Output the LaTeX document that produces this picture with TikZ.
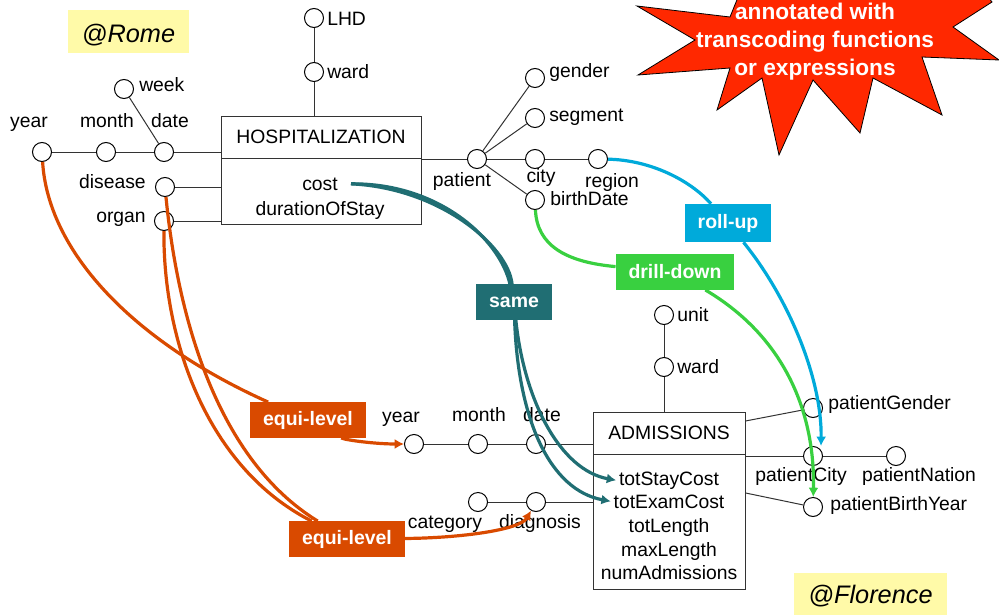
\documentclass[tikz,border=0pt]{standalone}
\usepackage{fontspec}
\setmainfont{Liberation Sans}
\usetikzlibrary{arrows.meta}

\definecolor{eqorange}{RGB}{217,74,0}
\definecolor{sameteal}{RGB}{32,110,115}
\definecolor{drillgreen}{RGB}{57,208,64}
\definecolor{rollblue}{RGB}{0,170,218}
\definecolor{starred}{RGB}{255,40,0}
\definecolor{noteyellow}{RGB}{255,250,168}

\pgfdeclarelayer{lines}
\pgfdeclarelayer{curves}
\pgfdeclarelayer{tags}
\pgfsetlayers{lines,main,curves,tags}

\tikzset{
  attr/.style={circle,draw=black,fill=white,line width=0.75pt,minimum size=14.25pt,inner sep=0pt},
  txt/.style={inner sep=0pt,font=\fontsize{14.5}{17}\selectfont,anchor=base},
  fact/.style={draw=black!80,line width=0.75pt,fill=white,inner sep=0pt,font=\fontsize{14.5}{17}\selectfont},
  link/.style={draw=black!80,line width=0.75pt},
  tag/.style={fill=#1,text=white,font=\bfseries\fontsize{14.6}{17}\selectfont,inner xsep=9.5pt,inner ysep=0pt,minimum height=26.5pt},
  flow/.style={draw=#1,line width=2.4pt},
  tip/.style={-{Latex[length=7pt,width=7.5pt]}},
  place/.style={fill=noteyellow,inner sep=0pt,text depth=0pt,font=\itshape\fontsize{19}{22}\selectfont},
  startxt/.style={inner sep=0pt,anchor=base,text=white,font=\bfseries\fontsize{17}{20}\selectfont}
}

\begin{document}
\begin{tikzpicture}[x=0.75pt,y=-0.75pt]
\useasboundingbox (0,0) rectangle (999,614);
\clip (0,0) rectangle (999,614);

% site notes
\node[place,text height=17.2pt,minimum width=90.75pt,minimum height=32.25pt] (rome) at (128.5,31.5) {@Rome};
\node[place,text height=14.2pt,minimum width=114.75pt,minimum height=32.25pt] (florence) at (870.5,594.5) {@Florence};

% callout star
\fill[starred,draw=black,line width=0.6pt]
  (637,6) -- (695,40) -- (638,75) -- (730,68) -- (717,110) -- (762,78) -- (779,155)
  -- (813,80) -- (860,133) -- (873,78) -- (942,115) -- (922,57) -- (999,60)
  -- (953,27) -- (992,2) -- (975,-20) -- (745,-20) -- (730,17) -- cycle;
\node[startxt] (star1) at (815,19) {annotated with};
\node[startxt] (star2) at (815,47) {transcoding functions};
\node[startxt] (star3) at (815,75) {or expressions};

% ---------- HOSPITALIZATION fact ----------
\node[fact,minimum width=150pt,minimum height=31.5pt] (hospH) at (321,137) {HOSPITALIZATION};
\node[fact,minimum width=150pt,minimum height=49.5pt] (hospM) at (321,191) {};
\node[txt] (cost) at (320,190) {cost};
\node[txt] (dur) at (320,215) {durationOfStay};

\node[attr] (year) at (42,152) {};
\node[attr] (month) at (106,152) {};
\node[attr] (date) at (164,152) {};
\node[attr] (week) at (124,89) {};
\node[attr] (disease) at (165,187) {};
\node[attr] (organ) at (164,221) {};
\node[attr] (lhd) at (314,18) {};
\node[attr] (hward) at (314,72) {};
\node[attr] (patient) at (477,159) {};
\node[attr] (gender) at (535,78) {};
\node[attr] (segment) at (535,118) {};
\node[attr] (city) at (535,159) {};
\node[attr] (region) at (598,159) {};
\node[attr] (birth) at (535,200) {};

\node[txt] (yearT) at (29,127) {year};
\node[txt] (monthT) at (107,127) {month};
\node[txt] (dateT) at (170,127) {date};
\node[txt,anchor=base west] (weekT) at (139,91) {week};
\node[txt,anchor=base east] (diseaseT) at (146,188) {disease};
\node[txt,anchor=base east] (organT) at (146,222) {organ};
\node[txt,anchor=base west] (lhdT) at (327,25) {LHD};
\node[txt,anchor=base west] (hwardT) at (327,78) {ward};
\node[txt] (patientT) at (462,186) {patient};
\node[txt,anchor=base west] (genderT) at (549,77) {gender};
\node[txt,anchor=base west] (segmentT) at (549,121) {segment};
\node[txt] (cityT) at (541,182) {city};
\node[txt] (regionT) at (612,187) {region};
\node[txt,anchor=base west] (birthT) at (550,205) {birthDate};

% ---------- ADMISSIONS fact ----------
\node[fact,minimum width=114pt,minimum height=31.5pt] (admH) at (669,433) {ADMISSIONS};
\node[fact,minimum width=114pt,minimum height=101.25pt] (admM) at (669,521.5) {};
\node[txt] (tsc) at (669,485) {totStayCost};
\node[txt] (tec) at (669,508) {totExamCost};
\node[txt] (tlen) at (669,532) {totLength};
\node[txt] (mlen) at (669,556) {maxLength};
\node[txt] (nadm) at (669,579) {numAdmissions};

\node[attr] (year2) at (414,444) {};
\node[attr] (month2) at (478,444) {};
\node[attr] (date2) at (536,444) {};
\node[attr] (cat) at (478,502) {};
\node[attr] (diag) at (536,502) {};
\node[attr] (unit) at (664,315) {};
\node[attr] (ward2) at (664,367) {};
\node[attr] (pgen) at (813,408) {};
\node[attr] (pcity) at (813,456) {};
\node[attr] (pnat) at (896,456) {};
\node[attr] (pby) at (813,507) {};

\node[txt] (year2T) at (401,422) {year};
\node[txt] (month2T) at (479,421) {month};
\node[txt] (date2T) at (542,421) {date};
\node[txt] (catT) at (445,528) {category};
\node[txt] (diagT) at (540,528) {diagnosis};
\node[txt,anchor=base west] (unitT) at (677,321) {unit};
\node[txt,anchor=base west] (ward2T) at (677,373) {ward};
\node[txt,anchor=base west] (pgenT) at (828,409) {patientGender};
\node[txt] (pcityT) at (801,481) {patientCity};
\node[txt] (pnatT) at (919,481) {patientNation};
\node[txt,anchor=base west] (pbyT) at (830,510) {patientBirthYear};

% ---------- hierarchy links ----------
\begin{pgfonlayer}{lines}
\draw[link] (year) -- (month) -- (date) -- (date -| hospH.west);
\draw[link] (week) -- (date);
\draw[link] (disease) -- (disease -| hospM.west);
\draw[link] (organ) -- (organ -| hospM.west);
\draw[link] (lhd) -- (hward) -- (hward |- hospH.north);
\draw[link] (hospM.east |- patient) -- (patient);
\draw[link] (patient) -- (gender);
\draw[link] (patient) -- (segment);
\draw[link] (patient) -- (city) -- (region);
\draw[link] (patient) -- (birth);

\draw[link] (year2) -- (month2) -- (date2) -- (date2 -| admH.west);
\draw[link] (cat) -- (diag) -- (diag -| admM.west);
\draw[link] (unit) -- (ward2) -- (ward2 |- admH.north);
\draw[link] ([yshift=9pt]admH.east) -- (pgen);
\draw[link] (admM.east |- pcity) -- (pcity) -- (pnat);
\draw[link] ([yshift=21.4pt]admM.east) -- (pby);
\end{pgfonlayer}

% ---------- mapping tags ----------
\begin{pgfonlayer}{tags}
\node[tag=eqorange] (eq1) at (308,420) {equi-level};
\node[tag=eqorange] (eq2) at (347,539) {equi-level};
\node[tag=sameteal] (same) at (514,302) {same};
\node[tag=drillgreen] (drill) at (675,272) {drill-down};
\node[tag=rollblue,minimum height=28.5pt] (roll) at (728,223) {roll-up};
\end{pgfonlayer}

% ---------- mapping curves ----------
\begin{pgfonlayer}{curves}
\coordinate (costEnd) at ([xshift=9.75pt]cost.east);
\draw[flow=eqorange] (year) .. controls (48,250) and (130,340) .. (eq1);
\draw[flow=eqorange,tip] (eq1) .. controls (345,440) and (375,444) .. (year2);
\draw[flow=eqorange] (disease) .. controls (178,320) and (218,460) .. (eq2);
\draw[flow=eqorange] (organ) .. controls (163,340) and (207,468) .. (eq2);
\draw[flow=eqorange,tip] (eq2) .. controls (460,538) and (520,530) .. (diag);

\draw[flow=sameteal] (costEnd) .. controls (440,183) and (500,240) .. (same);
\draw[flow=sameteal] (costEnd) .. controls (440,188) and (508,246) .. (same);
\draw[flow=sameteal,tip] (same) .. controls (524,400) and (560,470) .. ([xshift=-2pt]tsc.west);
\draw[flow=sameteal,tip] (same) .. controls (518,420) and (550,490) .. ([xshift=-2pt]tec.west);

\draw[flow=drillgreen] (birth) .. controls (537,245) and (565,262) .. (drill);
\draw[flow=drillgreen,tip] (drill) .. controls (790,340) and (815,420) .. (pby);

\draw[flow=rollblue] (region) .. controls (650,160) and (690,180) .. (roll);
\draw[flow=rollblue,tip] (roll) .. controls (790,300) and (822,380) .. ([xshift=6pt]pcity.north);
\end{pgfonlayer}
\end{tikzpicture}
\end{document}
